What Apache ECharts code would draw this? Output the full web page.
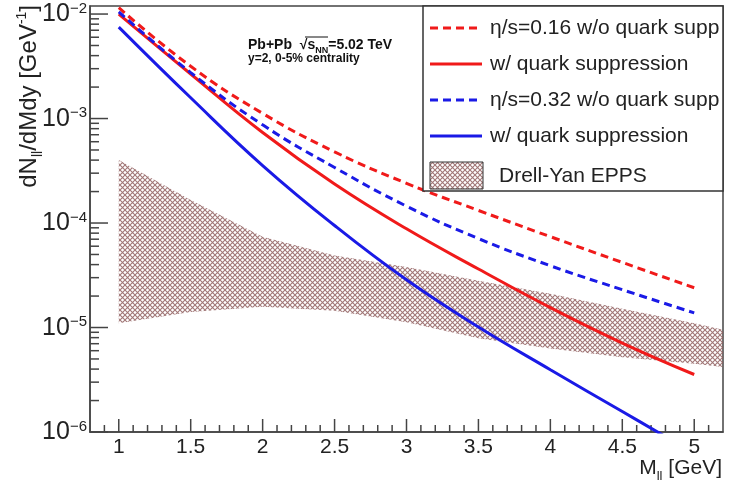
<!DOCTYPE html>
<html>
<head>
<meta charset="utf-8">
<script src="https://cdn.jsdelivr.net/npm/echarts@6/dist/echarts.min.js"></script>
<style>
  html, body { margin: 0; padding: 0; background: #fff; }
  #chart { width: 734px; height: 482px; }
</style>
</head>
<body>
<div id="chart"></div>
<script>
// dilepton mass grid (GeV)
const massGrid = [1, 1.5, 2, 2.5, 3, 3.5, 4, 4.5, 5]
const eta016NoSupp = [1.15e-2, 3.16e-3, 1.12e-3, 4.8e-4, 2.4e-4, 1.32e-4, 7.4e-5, 4.2e-5, 2.4e-5]
const eta016Supp = [1.0e-2, 2.67e-3, 7.36e-4, 2.36e-4, 8.8e-5, 3.63e-5, 1.55e-5, 7.1e-6, 3.55e-6]
const eta032NoSupp = [1.05e-2, 2.75e-3, 8.7e-4, 3.4e-4, 1.45e-4, 7.1e-5, 3.9e-5, 2.3e-5, 1.38e-5]
const eta032Supp = [7.5e-3, 1.58e-3, 3.55e-4, 9.46e-5, 2.86e-5, 1.01e-5, 3.94e-6, 1.57e-6, 6.25e-7]

// Drell-Yan EPPS band
const dyMass = [1, 1.5, 2, 2.5, 3, 3.5, 4, 4.5, 5, 5.2]
const dyUpper = [4.0e-4, 1.66e-4, 7.4e-5, 4.9e-5, 3.8e-5, 2.8e-5, 2.1e-5, 1.51e-5, 1.1e-5, 9.5e-6]
const dyLower = [1.1e-5, 1.41e-5, 1.58e-5, 1.45e-5, 1.12e-5, 7.9e-6, 6.3e-6, 5.2e-6, 4.5e-6, 4.2e-6]

// axis ticks
const xMajorTicks = [1, 1.5, 2, 2.5, 3, 3.5, 4, 4.5, 5]
const yMajorTicks = [1e-6, 1e-5, 1e-4, 1e-3, 1e-2]
const xMinorTicks = []
for (let i = 9; i <= 51; i++) {
  if (i % 5 !== 0) xMinorTicks.push(i / 10)
}
const yMinorTicks = []
for (let e = -6; e <= -3; e++) {
  for (let m = 2; m <= 9; m++) yMinorTicks.push(m * Math.pow(10, e))
}

const legendLabels = [
  'η/s=0.16 w/o quark supp',
  'w/ quark suppression',
  'η/s=0.32 w/o quark supp',
  'w/ quark suppression',
  'Drell-Yan EPPS'
]

const X_MIN = 0.8
const X_MAX = 5.2
const Y_MIN = 1e-6
const Y_MAX = 0.01194

const RED = '#f01a1a'
const BLUE = '#1a1ae6'
const AXIS = '#444'
const FONT = '"Liberation Sans", Arial, Helvetica, sans-serif'

function hatch() {
  const c = document.createElement('canvas')
  c.width = 5
  c.height = 5
  const g = c.getContext('2d')
  g.strokeStyle = 'rgba(145,95,95,0.85)'
  g.lineWidth = 1.1
  g.beginPath()
  g.moveTo(0, 0); g.lineTo(5, 5)
  g.moveTo(5, 0); g.lineTo(0, 5)
  g.stroke()
  return c
}
const hatchFill = { image: hatch(), repeat: 'repeat' }

function curve(name, values, color, dashed) {
  return {
    name: name,
    type: 'line',
    data: massGrid.map((m, i) => [m, values[i]]),
    smooth: 0.45,
    symbol: 'none',
    clip: true,
    z: 5,
    lineStyle: { color: color, width: 3, type: dashed ? [8, 5] : 'solid' }
  }
}

// tick marks as thin filled bars
function tickBar(x, y, w, h) {
  return {
    type: 'rect',
    shape: { x: x, y: y, width: w, height: h },
    style: { fill: AXIS, stroke: null }
  }
}

// band polygon plus ROOT style inward ticks, all placed with api.coord
function renderBand(params, api) {
  if (params.dataIndex !== 0) return null
  const top = dyMass.map((m, i) => api.coord([m, dyUpper[i]]))
  const bottom = dyMass.map((m, i) => api.coord([m, dyLower[i]])).reverse()
  const children = [{
    type: 'polygon',
    shape: { points: top.concat(bottom) },
    style: { fill: hatchFill, stroke: null }
  }]
  const yBase = api.coord([2, Y_MIN])[1]
  const xBase = api.coord([X_MIN, 1e-4])[0]
  xMajorTicks.forEach(v => {
    const px = api.coord([v, 1e-4])[0]
    children.push(tickBar(px - 0.75, yBase - 13, 1.5, 13))
  })
  xMinorTicks.forEach(v => {
    const px = api.coord([v, 1e-4])[0]
    children.push(tickBar(px - 0.75, yBase - 7, 1.5, 7))
  })
  yMajorTicks.forEach(v => {
    const py = api.coord([2, v])[1]
    children.push(tickBar(xBase, py - 0.75, 18, 1.5))
  })
  yMinorTicks.forEach(v => {
    const py = api.coord([2, v])[1]
    children.push(tickBar(xBase, py - 0.75, 9, 1.5))
  })
  return { type: 'group', children: children }
}

const chart = echarts.init(document.getElementById('chart'), null, { renderer: 'canvas' })

const legendRows = [28, 64, 100, 136]
const legendColors = [RED, RED, BLUE, BLUE]
const legendGraphics = [
  {
    type: 'rect', z: 20,
    shape: { x: 423, y: 6, width: 300, height: 185 },
    style: { fill: '#fff', stroke: '#333', lineWidth: 1.5 }
  }
]
legendRows.forEach((y, i) => {
  legendGraphics.push({
    type: 'line', z: 21,
    shape: { x1: 430, y1: y, x2: 482, y2: y },
    style: { stroke: legendColors[i], lineWidth: 3, lineDash: i % 2 === 0 ? [8, 5] : null }
  })
  legendGraphics.push({
    type: 'text', z: 21, x: 490, y: y,
    style: { text: legendLabels[i], fill: '#222', font: '21px ' + FONT, align: 'left', verticalAlign: 'middle' }
  })
})
legendGraphics.push({
  type: 'rect', z: 21,
  shape: { x: 430, y: 162, width: 53, height: 27 },
  style: { fill: hatchFill, stroke: '#333', lineWidth: 1 }
})
legendGraphics.push({
  type: 'text', z: 21, x: 499, y: 176,
  style: { text: legendLabels[4], fill: '#222', font: '21px ' + FONT, align: 'left', verticalAlign: 'middle' }
})

const textGraphics = [
  {
    type: 'text', x: 28, y: 5, rotation: Math.PI / 2,
    style: {
      text: '{a|dN}{sub|ll}{a|/dMdy [GeV}{sup|-1}{a|]}',
      align: 'right', verticalAlign: 'middle',
      rich: {
        a: { fontSize: 24, fill: '#222', verticalAlign: 'bottom', lineHeight: 26 },
        sub: { fontSize: 14, fill: '#222', verticalAlign: 'bottom', lineHeight: 26, padding: [0, 0, -4, 0] },
        sup: { fontSize: 14, fill: '#222', verticalAlign: 'top', lineHeight: 26 }
      }
    }
  },
  {
    type: 'text', x: 722, y: 467,
    style: {
      text: '{a|M}{sub|ll}{a| [GeV]}',
      align: 'right', verticalAlign: 'middle',
      rich: {
        a: { fontSize: 21, fill: '#222', verticalAlign: 'bottom', lineHeight: 24 },
        sub: { fontSize: 13, fill: '#222', verticalAlign: 'bottom', lineHeight: 24, padding: [0, 0, -4, 0] }
      }
    }
  },
  {
    type: 'text', x: 248, y: 45,
    style: {
      text: '{a|Pb+Pb  √}{a|s}{sub|NN}{a|=5.02 TeV}',
      align: 'left', verticalAlign: 'middle',
      rich: {
        a: { fontSize: 14, fontWeight: 'bold', fill: '#111', lineHeight: 14, verticalAlign: 'bottom' },
        sub: { fontSize: 9, fontWeight: 'bold', fill: '#111', lineHeight: 14, verticalAlign: 'bottom', padding: [0, 0, -3, 0] }
      }
    }
  },
  {
    type: 'line',
    shape: { x1: 305, y1: 37, x2: 328, y2: 37 },
    style: { stroke: '#111', lineWidth: 1 }
  },
  {
    type: 'text', x: 248, y: 59,
    style: {
      text: 'y=2, 0-5% centrality',
      align: 'left', verticalAlign: 'middle',
      font: 'bold 12px ' + FONT, fill: '#111'
    }
  }
]

chart.setOption({
  animation: false,
  textStyle: { fontFamily: FONT },
  grid: {
    left: 90, right: 11, top: 6, bottom: 50,
    show: true, borderColor: AXIS, borderWidth: 1.5
  },
  xAxis: {
    type: 'value', min: X_MIN, max: X_MAX, position: 'bottom',
    axisLine: { show: true, lineStyle: { color: AXIS, width: 1.5 } },
    axisTick: { show: false },
    axisLabel: { customValues: xMajorTicks, fontSize: 21, color: '#222', margin: 5 },
    splitLine: { show: false }
  },
  yAxis: {
    type: 'log', min: Y_MIN, max: Y_MAX, position: 'left',
    axisLine: { show: true, lineStyle: { color: AXIS, width: 1.5 } },
    axisTick: { show: false },
    axisLabel: {
      customValues: yMajorTicks, margin: 3, color: '#222',
      formatter: v => '{b|10}{s|−' + Math.round(-Math.log10(v)) + '}',
      rich: {
        b: { fontSize: 25, lineHeight: 26, verticalAlign: 'bottom', color: '#222' },
        s: { fontSize: 15, lineHeight: 26, verticalAlign: 'top', color: '#222' }
      }
    },
    splitLine: { show: false }
  },
  graphic: textGraphics.concat(legendGraphics),
  series: [
    {
      name: 'Drell-Yan EPPS',
      type: 'custom',
      clip: false,
      z: 3,
      data: dyMass.map((m, i) => [m, dyLower[i], dyUpper[i]]),
      encode: { x: 0, y: [1, 2] },
      renderItem: renderBand
    },
    curve(legendLabels[0], eta016NoSupp, RED, true),
    curve(legendLabels[1], eta016Supp, RED, false),
    curve(legendLabels[2], eta032NoSupp, BLUE, true),
    curve(legendLabels[3], eta032Supp, BLUE, false)
  ]
})
</script>
</body>
</html>
